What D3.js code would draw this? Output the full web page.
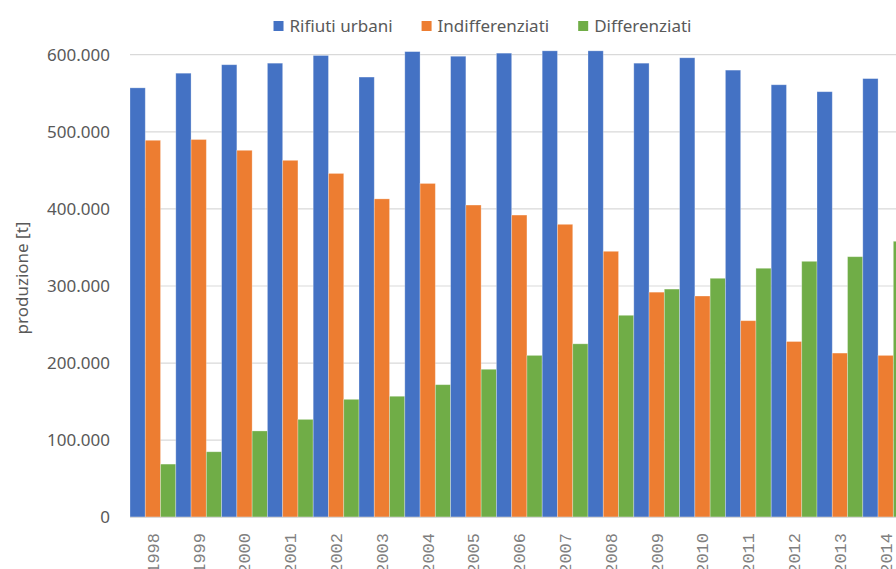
<!DOCTYPE html>
<html>
<head>
<meta charset="utf-8">
<script src="https://cdn.jsdelivr.net/npm/d3@7"></script>
<style>
    body { margin: 0; background: #ffffff; }
    svg { display: block; }
</style>
</head>
<body>
<div id="chart"></div>
<script>
// Data
const years = ['1998', '1999', '2000', '2001', '2002', '2003', '2004', '2005', '2006',
    '2007', '2008', '2009', '2010', '2011', '2012', '2013', '2014'];
const seriesNames = ['Rifiuti urbani', 'Indifferenziati', 'Differenziati'];
const rifiutiUrbani = [557000, 576000, 587000, 589000, 599000, 571000, 604000, 598000, 602000,
    605000, 605000, 589000, 596000, 580000, 561000, 552000, 569000];
const indifferenziati = [489000, 490000, 476000, 463000, 446000, 413000, 433000, 405000, 392000,
    380000, 345000, 292000, 287000, 255000, 228000, 213000, 210000];
const differenziati = [69000, 85000, 112000, 127000, 153000, 157000, 172000, 192000, 210000,
    225000, 262000, 296000, 310000, 323000, 332000, 338000, 358000];
const yTicks = [0, 100000, 200000, 300000, 400000, 500000, 600000];

const colors = ['#4472c4', '#ed7d31', '#70ad47'];

const width = 896;
const height = 569;
const plotLeft = 130;
const baseline = 517.3;
const plotTop = 54.7;
const groupStep = 45.8;

const svg = d3.select('#chart')
    .append('svg')
    .attr('width', width)
    .attr('height', height)
    .style('font-family', '"Noto Sans", sans-serif');

// scales
const x = d3.scaleBand()
    .domain(years)
    .range([plotLeft, plotLeft + groupStep * years.length])
    .padding(0);

const xInner = d3.scaleBand()
    .domain(seriesNames)
    .range([0, x.bandwidth()])
    .padding(0);

const y = d3.scaleLinear()
    .domain([0, 600000])
    .range([baseline, plotTop]);

// gridlines
svg.append('g')
    .selectAll('line')
    .data(yTicks)
    .enter()
    .append('line')
    .attr('x1', plotLeft)
    .attr('x2', width)
    .attr('y1', d => y(d))
    .attr('y2', d => y(d))
    .attr('stroke', '#d9d9d9')
    .attr('stroke-width', 1.2);

// y axis labels
const yAxis = svg.append('g')
    .attr('transform', `translate(${plotLeft}, 0)`)
    .call(d3.axisLeft(y).tickValues(yTicks).tickSize(0).tickPadding(20)
        .tickFormat(d => d3.format(',')(d).replace(/,/g, '.')));
yAxis.select('.domain').remove();
yAxis.selectAll('text')
    .style('font-family', '"Noto Sans", sans-serif')
    .style('font-size', '17px')
    .style('fill', '#595959');

// bars
const data = years.map((yr, i) => ({
    year: yr,
    values: [rifiutiUrbani[i], indifferenziati[i], differenziati[i]]
}));

const groups = svg.append('g')
    .selectAll('g')
    .data(data)
    .enter()
    .append('g')
    .attr('transform', d => `translate(${x(d.year)}, 0)`);

groups.selectAll('rect')
    .data(d => d.values.map((v, j) => ({ name: seriesNames[j], value: v, color: colors[j] })))
    .enter()
    .append('rect')
    .attr('x', d => xInner(d.name))
    .attr('y', d => y(d.value))
    .attr('width', xInner.bandwidth())
    .attr('height', d => baseline - y(d.value))
    .attr('fill', d => d.color)
    .attr('stroke', '#ffffff')
    .attr('stroke-opacity', 0.35)
    .attr('stroke-width', 0.8);

// baseline
svg.append('line')
    .attr('x1', plotLeft)
    .attr('x2', width)
    .attr('y1', baseline)
    .attr('y2', baseline)
    .attr('stroke', '#d9d9d9')
    .attr('stroke-width', 1.2);

// x labels (rotated)
svg.append('g')
    .selectAll('text')
    .data(years)
    .enter()
    .append('text')
    .attr('transform', d => `translate(${x(d) + x.bandwidth() / 2}, 533) rotate(-90)`)
    .attr('text-anchor', 'end')
    .attr('dy', '0.35em')
    .style('font-family', '"Liberation Mono", monospace')
    .style('font-size', '17px')
    .style('fill', '#7f7f7f')
    .text(d => d);

// y axis title
svg.append('text')
    .attr('transform', 'translate(22, 278) rotate(-90)')
    .attr('text-anchor', 'middle')
    .attr('dy', '0.35em')
    .style('font-size', '17px')
    .style('fill', '#595959')
    .text('produzione [t]');

// legend
const legend = svg.append('g');
let lx = 0;
seriesNames.forEach((name, i) => {
    const item = legend.append('g').attr('transform', `translate(${lx}, 0)`);
    item.append('rect')
        .attr('x', 0)
        .attr('y', 21)
        .attr('width', 10)
        .attr('height', 10)
        .attr('fill', colors[i]);
    const t = item.append('text')
        .attr('x', 16)
        .attr('y', 26)
        .attr('dy', '0.35em')
        .style('font-size', '17px')
        .style('fill', '#595959')
        .text(name);
    lx += 16 + t.node().getComputedTextLength() + 29;
});
const legendWidth = lx - 29;
legend.attr('transform', `translate(${482.5 - legendWidth / 2}, 0)`);
</script>
</body>
</html>
